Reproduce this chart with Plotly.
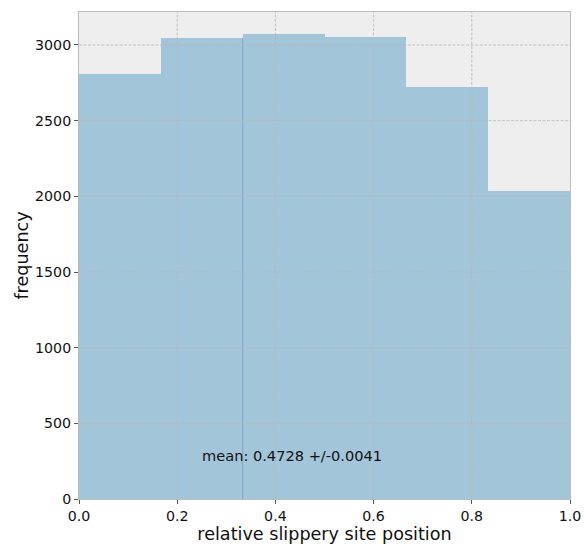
import plotly.graph_objects as go

bin_edges = [0.0, 1/6, 2/6, 3/6, 4/6, 5/6, 1.0]
counts = [2808, 3047, 3073, 3053, 2723, 2035]
mean_line_x = 1/3
mean_line_top = 3047
annotation_text = "mean: 0.4728 +/-0.0041"
x_ticks = [0.0, 0.2, 0.4, 0.6, 0.8, 1.0]
y_ticks = [0, 500, 1000, 1500, 2000, 2500, 3000]

centers = [(bin_edges[i] + bin_edges[i + 1]) / 2 for i in range(len(counts))]
widths = [bin_edges[i + 1] - bin_edges[i] for i in range(len(counts))]

GRID = "#b6b6b6"
GRID_DASH = "3px,1.5px"

fig = go.Figure()
fig.add_trace(go.Bar(
    x=centers, y=counts, width=widths,
    marker=dict(color="#a3c5da", line=dict(width=0)),
    showlegend=False, hoverinfo="skip",
))
fig.add_trace(go.Scatter(
    x=[mean_line_x, mean_line_x], y=[0, mean_line_top], mode="lines",
    line=dict(color="#72acd0", width=1),
    showlegend=False, hoverinfo="skip",
))

# grid lines drawn above bars (as in the reference)
for xv in x_ticks[1:-1]:
    fig.add_shape(type="line", xref="x", yref="paper", x0=xv, x1=xv, y0=0, y1=1,
                  line=dict(color=GRID, width=0.8, dash=GRID_DASH), layer="above")
for yv in y_ticks[1:]:
    fig.add_shape(type="line", xref="paper", yref="y", x0=0, x1=1, y0=yv, y1=yv,
                  line=dict(color=GRID, width=0.8, dash=GRID_DASH), layer="above")

fig.add_annotation(
    x=0.246, y=290, text=annotation_text, showarrow=False,
    xanchor="left", yanchor="middle",
    font=dict(family="DejaVu Sans", size=14.6, color="#111111"),
)

axis_common = dict(
    showgrid=False,
    ticks="outside", ticklen=4, tickcolor="#555555", tickwidth=1,
    showline=True, linecolor="#bcbcbc", linewidth=1, mirror=True,
    zeroline=False, automargin=False,
    tickfont=dict(family="DejaVu Sans", size=14.2, color="#111111"),
)
fig.update_xaxes(
    range=[0, 1], tickvals=x_ticks, ticktext=[f"{v:.1f}" for v in x_ticks],
    title=dict(text="relative slippery site position", standoff=1,
               font=dict(family="DejaVu Sans", size=17.6, color="#111111")),
    **axis_common,
)
fig.update_yaxes(
    range=[0, 3218], tickvals=y_ticks, ticktext=[str(v) for v in y_ticks],
    title=dict(text="frequency", standoff=1,
               font=dict(family="DejaVu Sans", size=17.6, color="#111111")),
    **axis_common,
)
fig.update_layout(
    width=584, height=544,
    margin=dict(l=79, r=14, t=12, b=45),
    plot_bgcolor="#eeeeee", paper_bgcolor="white",
    bargap=0,
)
fig.write_html("out.html")
